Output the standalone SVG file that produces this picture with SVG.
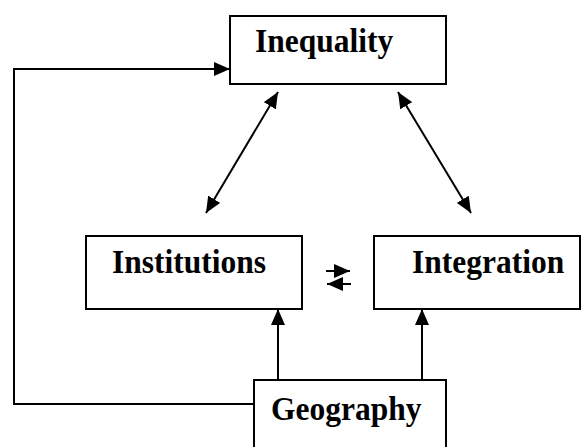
<svg xmlns="http://www.w3.org/2000/svg" width="582" height="447" viewBox="0 0 582 447">
<style>
.box{fill:#fff;stroke:#000;stroke-width:2}
.lbl{font-family:"Liberation Serif","Times New Roman",serif;font-weight:bold;font-size:31.5px;fill:#000}
.con{fill:none;stroke:#000;stroke-width:2}
</style>
<defs>
<marker id="ah" markerUnits="userSpaceOnUse" markerWidth="16" markerHeight="14" refX="16" refY="7" orient="auto-start-reverse">
<path d="M0,0 L16,7 L0,14 z" fill="#000"/>
</marker>
</defs>
<rect width="582" height="447" fill="#fff"/>
<g id="connectors">
<path class="con" d="M254,404 H14 V69 H230" marker-end="url(#ah)"/>
<path class="con" d="M278,380 V309" marker-end="url(#ah)"/>
<path class="con" d="M422,380 V309" marker-end="url(#ah)"/>
<path class="con" d="M278,92 L206,213" marker-start="url(#ah)" marker-end="url(#ah)"/>
<path class="con" d="M398,92 L471,213" marker-start="url(#ah)" marker-end="url(#ah)"/>
<path class="con" d="M326,271 H350" marker-end="url(#ah)"/>
<path class="con" d="M351,284 H327" marker-end="url(#ah)"/>
</g>
<g id="inequality">
<rect class="box" x="230" y="16" width="216" height="68"/>
<text class="lbl" transform="translate(255,52) scale(1,1.06)">Inequality</text>
</g>
<g id="institutions">
<rect class="box" x="86" y="236" width="216" height="73"/>
<text class="lbl" transform="translate(112,273) scale(1,1.06)">Institutions</text>
</g>
<g id="integration">
<rect class="box" x="374" y="236" width="206" height="73"/>
<text class="lbl" transform="translate(412,273) scale(1,1.06)">Integration</text>
</g>
<g id="geography">
<rect class="box" x="254" y="380" width="192" height="80"/>
<text class="lbl" transform="translate(271,420) scale(1,1.06)">Geography</text>
</g>
</svg>
